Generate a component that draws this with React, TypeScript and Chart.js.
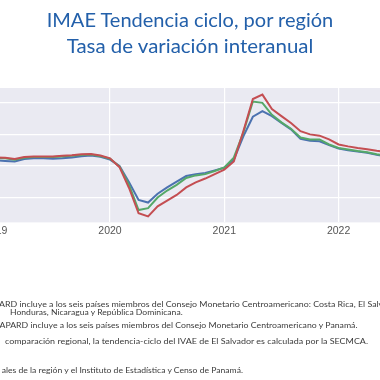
import React, { useEffect, useRef } from "react";
import { Chart, registerables } from "chart.js";

Chart.register(...registerables);

const titleLines = ["IMAE Tendencia ciclo, por región", "Tasa de variación interanual"];

const months = [
  "2018-10", "2018-11", "2018-12",
  "2019-01", "2019-02", "2019-03", "2019-04", "2019-05", "2019-06", "2019-07", "2019-08", "2019-09", "2019-10", "2019-11", "2019-12",
  "2020-01", "2020-02", "2020-03", "2020-04", "2020-05", "2020-06", "2020-07", "2020-08", "2020-09", "2020-10", "2020-11", "2020-12",
  "2021-01", "2021-02", "2021-03", "2021-04", "2021-05", "2021-06", "2021-07", "2021-08", "2021-09", "2021-10", "2021-11", "2021-12",
  "2022-01", "2022-02", "2022-03", "2022-04", "2022-05", "2022-06", "2022-07", "2022-08", "2022-09", "2022-10", "2022-11", "2022-12",
];

const blueValues = [
  1.0, 1.0, 0.95,
  0.9, 0.8, 0.7, 1.1, 1.2, 1.2, 1.15, 1.2, 1.35, 1.55, 1.65, 1.45,
  1.0, 0.0, -2.6, -5.4, -5.8, -4.4, -3.4, -2.5, -1.6, -1.3, -1.1, -0.7,
  -0.3, 1.0, 4.7, 7.8, 8.7, 7.9, 6.8, 5.8, 4.3, 4.0, 3.9, 3.3,
  2.75, 2.5, 2.3, 2.1, 1.75, 1.5, 1.3, 1.15, 1.0, 0.9, 0.8, 0.7,
];

const greenValues = [
  1.35, 1.35, 1.3,
  1.25, 1.2, 1.0, 1.3, 1.4, 1.4, 1.4, 1.5, 1.6, 1.75, 1.8, 1.55,
  1.15, -0.1, -3.0, -7.0, -6.7, -5.0, -3.9, -3.0, -1.9, -1.5, -1.3, -0.8,
  -0.25, 1.3, 5.3, 10.2, 10.0, 8.1, 6.9, 5.9, 4.5, 4.2, 4.2, 3.4,
  2.85, 2.6, 2.35, 2.15, 1.85, 1.6, 1.4, 1.25, 1.1, 1.0, 0.9, 0.8,
];

const redValues = [
  1.45, 1.45, 1.4,
  1.35, 1.3, 1.1, 1.4, 1.5, 1.5, 1.5, 1.6, 1.7, 1.85, 1.9, 1.65,
  1.2, -0.2, -3.5, -7.5, -8.0, -6.4, -5.5, -4.6, -3.4, -2.6, -2.0, -1.3,
  -0.6, 0.7, 5.5, 10.6, 11.3, 9.0, 7.9, 6.8, 5.5, 5.0, 4.8, 4.2,
  3.4, 3.1, 2.85, 2.65, 2.4, 2.2, 2.0, 1.85, 1.7, 1.6, 1.5, 1.4,
];

const seriesNames = ["CARD", "CAPARD", "CARD (SECMCA)"];
const xTickYears = [2019, 2020, 2021, 2022];
const yTickValues = [-5, 0, 5, 10];

const noteLines = [
  "ARD incluye a los seis países miembros del Consejo Monetario Centroamericano: Costa Rica, El Salvador, Guatemala,",
  "Honduras, Nicaragua y República Dominicana.",
  "APARD incluye a los seis países miembros del Consejo Monetario Centroamericano y Panamá.",
  "comparación regional, la tendencia-ciclo del IVAE de El Salvador es calculada por la SECMCA.",
  "ales de la región y el Instituto de Estadística y Censo de Panamá.",
];

const toYear = (m: string) => {
  const [y, mo] = m.split("-").map(Number);
  return y + (mo - 1) / 12;
};

const bgPlugin = {
  id: "plotBg",
  beforeDraw(chart: any) {
    const { ctx, chartArea: a } = chart;
    ctx.save();
    ctx.fillStyle = "#EAEAF2";
    ctx.fillRect(a.left, a.top, a.right - a.left, a.bottom - a.top);
    ctx.restore();
  },
};

function ChartCanvas() {
  const ref = useRef<HTMLCanvasElement | null>(null);
  useEffect(() => {
    if (!ref.current) return;
    const mk = (vals: number[]) => months.map((m, i) => ({ x: toYear(m), y: vals[i] }));
    const ds = (label: string, vals: number[], color: string, order: number) => ({
      label,
      data: mk(vals),
      borderColor: color,
      backgroundColor: color,
      borderWidth: 2,
      pointRadius: 0,
      tension: 0,
      fill: false,
      order,
    });
    const chart = new Chart(ref.current, {
      type: "line",
      data: {
        datasets: [
          ds(seriesNames[0], blueValues, "#4C72B0", 2),
          ds(seriesNames[1], greenValues, "#55A868", 1),
          ds(seriesNames[2], redValues, "#C44E52", 0),
        ],
      },
      options: {
        animation: false,
        responsive: false,
        devicePixelRatio: 1,
        layout: { padding: 0 },
        plugins: { legend: { display: false }, tooltip: { enabled: false }, title: { display: false } },
        scales: {
          x: {
            type: "linear",
            min: 2018.6877,
            max: 2022.7122,
            afterBuildTicks: (s: any) => {
              s.ticks = xTickYears.map((v) => ({ value: v }));
            },
            ticks: {
              callback: (v: any) => String(v),
              font: { family: "Liberation Sans", size: 10.5 },
              color: "#555",
              padding: 2,
              maxRotation: 0,
              autoSkip: false,
            },
            grid: { color: "#ffffff", lineWidth: 1.2, drawTicks: false },
            border: { display: false },
          },
          y: {
            type: "linear",
            min: -8.95,
            max: 12.35,
            afterBuildTicks: (s: any) => {
              s.ticks = yTickValues.map((v) => ({ value: v }));
            },
            ticks: { display: false },
            grid: { color: "#ffffff", lineWidth: 1.2, drawTicks: false },
            border: { display: false },
          },
        },
      },
      plugins: [bgPlugin],
    });
    return () => chart.destroy();
  }, []);
  return (
    <canvas
      ref={ref}
      width={460}
      height={151}
      style={{ position: "absolute", left: -40, top: 88, width: 460, height: 151 }}
    />
  );
}

export default function App() {
  const noteY = [306.8, 315.4, 328.2, 343.8, 372.7];
  const noteX = [-1, 10, -0.5, 5, 1.7];
  const noteLen = [449, 172.7, 358, 363, 241.3];
  return (
    <div
      style={{
        position: "fixed",
        left: 0,
        top: 0,
        width: 380,
        height: 380,
        overflow: "hidden",
        background: "#ffffff",
      }}
    >
      <ChartCanvas />
      <svg
        width={380}
        height={380}
        style={{ position: "absolute", left: 0, top: 0, pointerEvents: "none", overflow: "hidden" }}
      >
        <text
          x={46.7}
          y={26.7}
          textLength={286.6}
          lengthAdjust="spacingAndGlyphs"
          fill="#2360AA"
          style={{ fontFamily: "Lato, 'Noto Sans', sans-serif", fontSize: 19.5 }}
        >
          {titleLines[0]}
        </text>
        <text
          x={66.7}
          y={53.3}
          textLength={246.6}
          lengthAdjust="spacingAndGlyphs"
          fill="#2360AA"
          style={{ fontFamily: "Lato, 'Noto Sans', sans-serif", fontSize: 19.5 }}
        >
          {titleLines[1]}
        </text>
        {noteLines.map((t, i) => (
          <text
            key={i}
            x={noteX[i]}
            y={noteY[i]}
            textLength={noteLen[i]}
            lengthAdjust="spacingAndGlyphs"
            fill="#3a3a3a"
            style={{ fontFamily: "Lato, 'Noto Sans', sans-serif", fontSize: 8 }}
          >
            {t}
          </text>
        ))}
      </svg>
    </div>
  );
}
